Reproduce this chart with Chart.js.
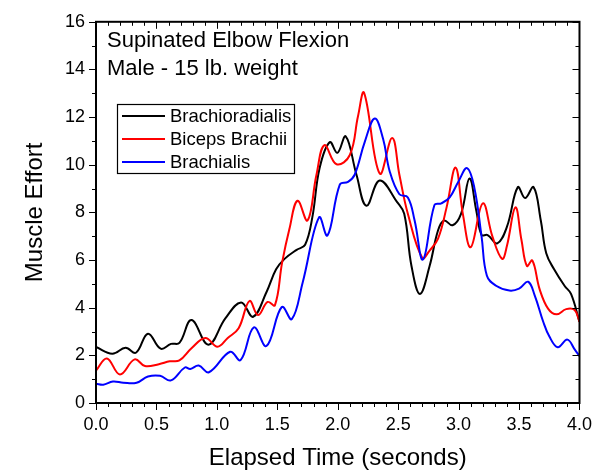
<!DOCTYPE html>
<html>
<head>
<meta charset="utf-8">
<script src="https://cdn.jsdelivr.net/npm/chart.js@4.4.0/dist/chart.umd.min.js"></script>
<style>
    html, body { margin: 0; padding: 0; background: #fff; }
</style>
</head>
<body>
<canvas id="effortChart" width="603" height="473"></canvas>
<script>
// Supinated elbow flexion, muscle effort vs time

const xTickValues = [0, 0.5, 1, 1.5, 2, 2.5, 3, 3.5, 4];
const yTickValues = [0, 2, 4, 6, 8, 10, 12, 14, 16];

const seriesNames = ['Brachioradialis', 'Biceps Brachii', 'Brachialis'];
const seriesColors = ['#000000', '#ff0000', '#0000ff'];

const blackT = [0, 0.135, 0.245, 0.33, 0.43, 0.535, 0.62, 0.69, 0.79, 0.93, 1.07, 1.2, 1.3, 1.41, 1.49, 1.56, 1.66, 1.73, 1.79, 1.85, 1.934, 1.997, 2.066, 2.155, 2.237, 2.347, 2.49, 2.55, 2.61, 2.68, 2.76, 2.83, 2.88, 2.95, 3.02, 3.09, 3.146, 3.19, 3.24, 3.32, 3.40, 3.49, 3.55, 3.62, 3.68, 3.725, 3.79, 3.876, 3.93, 4.0];
const blackY = [2.35, 2.07, 2.32, 2.11, 2.91, 2.28, 2.48, 2.52, 3.48, 2.45, 3.55, 4.22, 3.62, 4.65, 5.61, 6.05, 6.43, 6.64, 7.8, 9.86, 10.95, 10.5, 11.19, 9.58, 8.28, 9.34, 8.44, 7.94, 5.75, 4.58, 5.75, 7.25, 7.66, 7.46, 7.94, 9.42, 8.08, 7.05, 7.05, 6.7, 7.4, 9.06, 8.6, 9.06, 7.66, 6.29, 5.61, 4.92, 4.58, 3.41];

const redT = [0, 0.09, 0.198, 0.32, 0.405, 0.52, 0.61, 0.69, 0.79, 0.905, 1.005, 1.09, 1.18, 1.27, 1.34, 1.42, 1.48, 1.54, 1.60, 1.667, 1.75, 1.824, 1.89, 1.99, 2.10, 2.168, 2.218, 2.347, 2.45, 2.51, 2.58, 2.70, 2.76, 2.83, 2.90, 2.975, 3.035, 3.10, 3.20, 3.28, 3.36, 3.40, 3.47, 3.52, 3.565, 3.61, 3.67, 3.74, 3.81, 3.89, 3.96, 4.0];
const redY = [1.36, 1.87, 1.2, 1.83, 1.55, 1.63, 1.75, 1.79, 2.3, 2.73, 2.36, 2.73, 3.14, 4.28, 3.69, 4.24, 4.1, 5.9, 7.3, 8.49, 7.66, 9.58, 10.82, 10.02, 10.41, 12.05, 13.02, 9.63, 11.12, 9.58, 7.94, 6.09, 6.4, 6.9, 8.2, 9.88, 7.94, 6.54, 8.38, 6.98, 6.05, 6.6, 8.21, 6.84, 5.75, 5.98, 4.78, 3.96, 3.72, 3.94, 3.9, 3.41];

const blueT = [0, 0.06, 0.14, 0.226, 0.336, 0.43, 0.53, 0.62, 0.735, 0.78, 0.85, 0.934, 1.11, 1.196, 1.306, 1.41, 1.537, 1.62, 1.71, 1.845, 1.915, 2.017, 2.085, 2.14, 2.223, 2.306, 2.375, 2.43, 2.51, 2.58, 2.636, 2.705, 2.80, 2.857, 2.926, 3.0, 3.07, 3.13, 3.19, 3.234, 3.31, 3.42, 3.50, 3.575, 3.63, 3.70, 3.75, 3.82, 3.90, 3.96, 4.0];
const blueY = [0.81, 0.77, 0.9, 0.85, 0.85, 1.11, 1.14, 0.95, 1.49, 1.43, 1.57, 1.29, 2.15, 1.8, 3.17, 2.39, 4.03, 3.52, 5.06, 7.79, 7.03, 9.17, 9.28, 9.58, 10.95, 11.94, 11.09, 9.72, 8.76, 8.63, 7.66, 6.02, 8.31, 8.38, 8.63, 9.31, 9.86, 9.04, 6.98, 5.34, 4.92, 4.72, 4.8, 5.09, 4.51, 3.41, 2.8, 2.34, 2.66, 2.25, 1.97];

const noteLines = ['Supinated Elbow Flexion', 'Male - 15 lb. weight'];

const FONT = '"Liberation Sans", Arial, sans-serif';
Chart.defaults.font.family = FONT;
Chart.defaults.color = '#000';

function points(ts, ys) {
    return ts.map((t, i) => ({ x: t, y: ys[i] }));
}

// frame, minor/major ticks on all four sides, note text and the legend box
const decorPlugin = {
    id: 'decor',
    afterDraw(chart) {
        const { ctx, chartArea: a, scales: { x, y } } = chart;
        ctx.save();
        ctx.strokeStyle = '#000';
        ctx.lineWidth = 1;
        ctx.beginPath();
        for (let i = 0; i <= 40; i++) {
            const px = Math.round(x.getPixelForValue(i / 10)) + 0.5;
            const len = i % 5 === 0 ? 7 : 4;
            ctx.moveTo(px, a.bottom); ctx.lineTo(px, a.bottom + len);
            ctx.moveTo(px, a.top); ctx.lineTo(px, a.top + len);
        }
        for (let i = 0; i <= 16; i++) {
            const py = Math.round(y.getPixelForValue(i)) + 0.5;
            const len = i % 2 === 0 ? 7 : 4;
            ctx.moveTo(a.left, py); ctx.lineTo(a.left - len, py);
            ctx.moveTo(a.right, py); ctx.lineTo(a.right - len, py);
        }
        ctx.stroke();

        ctx.lineWidth = 2;
        ctx.strokeRect(a.left, a.top, a.right - a.left, a.bottom - a.top);

        ctx.fillStyle = '#000';
        ctx.font = '22px ' + FONT;
        ctx.textBaseline = 'alphabetic';
        ctx.textAlign = 'left';
        ctx.fillText(noteLines[0], 107, 47);
        ctx.fillText(noteLines[1], 107, 75);

        // legend
        const bx = 117, by = 104, bw = 177, bh = 69;
        ctx.fillStyle = '#fff';
        ctx.fillRect(bx, by, bw, bh);
        ctx.lineWidth = 1.2;
        ctx.strokeStyle = '#000';
        ctx.strokeRect(bx + 0.5, by + 0.5, bw, bh);
        ctx.font = '18.5px ' + FONT;
        ctx.textBaseline = 'middle';
        seriesNames.forEach((name, i) => {
            const ly = by + 12 + i * 23;
            ctx.strokeStyle = seriesColors[i];
            ctx.lineWidth = 2;
            ctx.beginPath();
            ctx.moveTo(bx + 5, ly);
            ctx.lineTo(bx + 48, ly);
            ctx.stroke();
            ctx.fillStyle = '#000';
            ctx.fillText(name, bx + 53, ly + 1);
        });
        ctx.restore();
    }
};

const seriesData = [points(blackT, blackY), points(redT, redY), points(blueT, blueY)];

new Chart(document.getElementById('effortChart'), {
    type: 'line',
    data: {
        datasets: seriesNames.map((name, i) => ({
            label: name,
            data: seriesData[i],
            borderColor: seriesColors[i],
            borderWidth: 2,
            pointRadius: 0,
            tension: 0.4,
            fill: false,
            order: 3 - i
        }))
    },
    options: {
        responsive: false,
        devicePixelRatio: 1,
        animation: false,
        layout: { padding: { top: 14, right: 23, left: 0, bottom: 0 } },
        plugins: { legend: { display: false }, tooltip: { enabled: false } },
        scales: {
            x: {
                type: 'linear',
                min: 0,
                max: 4,
                afterBuildTicks: s => { s.ticks = xTickValues.map(v => ({ value: v })); },
                afterFit: s => { s.height = 70; },
                grid: { display: false, drawTicks: false },
                border: { display: false },
                ticks: {
                    padding: 11,
                    maxRotation: 0,
                    font: { size: 18 },
                    callback: v => v.toFixed(1)
                },
                title: {
                    display: true,
                    text: 'Elapsed Time (seconds)',
                    font: { size: 24 },
                    padding: { top: 0, bottom: 0 }
                }
            },
            y: {
                min: 0,
                max: 16,
                afterBuildTicks: s => { s.ticks = yTickValues.map(v => ({ value: v })); },
                afterFit: s => { s.width = 96; },
                grid: { display: false, drawTicks: false },
                border: { display: false },
                ticks: { padding: 11, font: { size: 18 } },
                title: {
                    display: true,
                    text: 'Muscle Effort',
                    font: { size: 24 },
                    padding: { top: 21, bottom: 0 }
                }
            }
        }
    },
    plugins: [decorPlugin]
});
</script>
</body>
</html>
